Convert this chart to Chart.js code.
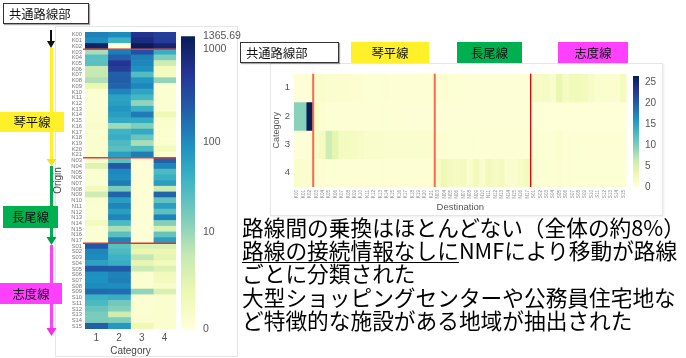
<!DOCTYPE html>
<html>
<head>
<meta charset="utf-8">
<script src="https://cdn.jsdelivr.net/npm/chart.js@4.4.1/dist/chart.umd.min.js"></script>
<style>
  html, body { margin: 0; padding: 0; background: #fff; }
  #page { position: relative; width: 686px; height: 358px; overflow: hidden;
          font-family: "Noto Sans CJK JP", "Noto Sans", sans-serif; color: #111; }
  canvas { position: absolute; }
  .card { position: absolute; box-sizing: border-box; border: 1px solid #e6e6e6; background: #fff; }
  .tag { position: absolute; box-sizing: border-box; display: flex; align-items: center;
         justify-content: center; font-size: 12.3px; color: #111; }
  .boxed { border: 1.5px solid #333; background: #fff; justify-content: flex-start; padding-left: 5px;
           box-shadow: 1px 1px 1px rgba(0,0,0,0.35); }
  .kotohira { background: #fff02a; }
  .nagao { background: #00b050; }
  .shido { background: #ff40ff; }
  #notes { position: absolute; left: 242px; top: 215px; font-size: 21.7px; line-height: 23.2px;
           white-space: nowrap; color: #000; }
  #notes .ul { text-decoration: underline; text-decoration-thickness: 1px; text-underline-offset: 3px; }
  svg { position: absolute; left: 0; top: 0; }
</style>
</head>
<body>
<div id="page">
  <div class="card" style="left:55px; top:26px; width:183px; height:331px;"></div>
  <div class="card" style="left:270px; top:63px; width:393px; height:153px; box-shadow: 1px 1px 2px rgba(0,0,0,0.08);"></div>

  <canvas id="originMap" width="133" height="336" style="left:52px; top:22px;"></canvas>
  <canvas id="originScale" width="70" height="336" style="left:175px; top:22px;"></canvas>
  <canvas id="destMap" width="366" height="152" style="left:266px; top:64px;"></canvas>
  <canvas id="destScale" width="35" height="152" style="left:627px; top:64px;"></canvas>

  <svg width="686" height="358">
    <line x1="51" y1="30" x2="51" y2="42" stroke="#111" stroke-width="2"/>
    <polygon points="47,41 55,41 51,48" fill="#111"/>
    <rect x="50" y="48" width="3" height="112" fill="#fff02a"/>
    <polygon points="46.5,159 56.5,159 51.5,166" fill="#f2e21c"/>
    <rect x="50" y="166" width="3" height="72" fill="#00b050"/>
    <polygon points="46.5,237 56.5,237 51.5,245" fill="#00a048"/>
    <rect x="50" y="245" width="3" height="84" fill="#ff40ff"/>
    <polygon points="46.5,328 56.5,328 51.5,336" fill="#f030f0"/>
  </svg>

  <div class="tag boxed" style="left:3px; top:3px; width:86px; height:21px;">共通路線部</div>
  <div class="tag kotohira" style="left:0px; top:112px; width:64px; height:20px;">琴平線</div>
  <div class="tag nagao" style="left:3px; top:206px; width:55px; height:22px;">長尾線</div>
  <div class="tag shido" style="left:0px; top:283px; width:62px; height:21px;">志度線</div>

  <div class="tag boxed" style="left:240px; top:42px; width:99px; height:21px;">共通路線部</div>
  <div class="tag kotohira" style="left:351px; top:42px; width:78px; height:21px;">琴平線</div>
  <div class="tag nagao" style="left:457px; top:42px; width:65px; height:21px;">長尾線</div>
  <div class="tag shido" style="left:558px; top:42px; width:70px; height:21px;">志度線</div>

  <div id="notes">
    <div>路線間の乗換はほとんどない（全体の約8%）</div>
    <div><span class="ul">路線の接続情報なしに</span>NMFにより移動が路線</div>
    <div>ごとに分類された</div>
    <div>大型ショッピングセンターや公務員住宅地な</div>
    <div>ど特徴的な施設がある地域が抽出された</div>
  </div>
</div>

<script>
// Stations: common trunk K00-K02, Kotohira line K03-K21, Nagao line N03-N17, Shido line S01-S15
const stations = [
  'K00','K01','K02','K03','K04','K05','K06','K07','K08','K09','K10','K11','K12','K13','K14','K15','K16','K17','K18','K19','K20','K21',
  'N03','N04','N05','N06','N07','N08','N09','N10','N11','N12','N13','N14','N15','N16','N17',
  'S01','S02','S03','S04','S05','S06','S07','S08','S09','S10','S11','S12','S13','S14','S15'
];
const categories = ['1', '2', '3', '4'];
const sectionStarts = ['K03', 'N03', 'S01'];

// Origin weights per category (W matrix), one array per category
const originCat1 = [
  120, 95, 1050, 8, 25, 25, 5, 5, 7, 1.5, 0.2, 0.2, 0.2, 0.2, 0.3, 0.3, 0.4, 0.3, 0.3, 0.3, 0.3, 0.3,
  0.3, 2.5, 0.2, 0.2, 0.2, 0.8, 4, 0.3, 0.2, 0.2, 0.2, 0.8, 0.2, 0.2, 0.2,
  260, 110, 100, 60, 260, 90, 90, 100, 180, 40, 32, 20, 15, 15, 220
];
const originCat2 = [
  100, 40, 0, 130, 220, 550, 450, 220, 230, 200, 110, 60, 65, 80, 65, 50, 9, 38, 45, 30, 25, 65,
  25, 250, 105, 95, 130, 15, 200, 65, 110, 65, 110, 32, 8, 25, 115,
  25, 30, 40, 45, 250, 115, 125, 95, 170, 45, 17, 13, 4, 14, 75
];
const originCat3 = [
  600, 750, 1365.69, 300, 125, 110, 90, 28, 80, 105, 55, 35, 11, 42, 135, 50, 14, 50, 20, 8, 30, 130,
  0.1, 0.1, 0.1, 0.1, 0.1, 0.1, 0.1, 0.1, 0.1, 0.1, 0.1, 0.1, 0.1, 0.1, 0.1,
  2.8, 1.6, 5.5, 1.8, 4.5, 0.2, 0.2, 0.2, 11, 0.2, 0.2, 0.2, 0.2, 0.3, 1.2
];
const originCat4 = [
  450, 470, 950, 45, 14, 4, 0.8, 0.7, 11, 0.2, 0.2, 0.2, 0.2, 0.2, 1.3, 0.3, 0.3, 0.2, 0.2, 0.3, 0.9, 0.3,
  210, 110, 30, 42, 65, 4.5, 200, 22, 65, 24, 115, 13, 3, 21, 65,
  3, 1.5, 2, 0.9, 2.7, 1, 0.8, 0.4, 3, 0.3, 0.3, 0.3, 0.3, 0.3, 0.3
];

// Destination weights per category (H matrix)
const destCat1 = [
  0.3, 0.3, 0.3, 1.0, 1.2, 0.9, 1.0, 0.8, 0.8, 0.6, 0.6, 0.5, 0.5, 0.5, 0.6, 0.5, 0.5, 0.4, 0.4, 0.4, 0.4, 0.4,
  0.5, 0.6, 0.5, 0.4, 0.4, 0.3, 0.4, 0.3, 0.3, 0.3, 0.3, 0.3, 0.3, 0.3, 0.3,
  1.5, 1.5, 1.8, 1.2, 3.5, 1.8, 2.5, 2.6, 2.4, 1.5, 1.0, 1.0, 0.8, 0.8, 2.0
];
const destCat2 = [
  9.5, 9.5, 26.6, 1.5, 0.6, 0.5, 0.5, 0.4, 0.4, 0.4, 0.4, 0.4, 0.4, 0.4, 0.5, 0.4, 0.4, 0.3, 0.3, 0.3, 0.3, 0.3,
  0.3, 0.3, 0.3, 0.3, 0.3, 0.3, 0.3, 0.3, 0.3, 0.3, 0.3, 0.3, 0.3, 0.3, 0.3,
  0.2, 0.2, 0.2, 0.2, 0.2, 0.2, 0.2, 0.2, 0.2, 0.2, 0.2, 0.2, 0.2, 0.2, 0.2
];
const destCat3 = [
  0.3, 0.3, 0.4, 1.5, 2.0, 6.0, 4.0, 2.0, 2.0, 1.8, 1.5, 1.2, 1.2, 1.2, 1.0, 1.0, 0.9, 1.0, 1.0, 0.9, 0.8, 0.8,
  0.6, 0.6, 0.5, 0.5, 0.5, 0.5, 0.5, 0.4, 0.4, 0.4, 0.4, 0.4, 0.4, 0.4, 0.4,
  0.5, 0.5, 0.5, 0.5, 0.9, 0.5, 0.5, 0.5, 0.5, 0.4, 0.4, 0.4, 0.4, 0.4, 0.4
];
const destCat4 = [
  1.2, 1.0, 0.6, 0.6, 0.6, 0.5, 0.5, 0.4, 0.4, 0.4, 0.4, 0.4, 0.4, 0.4, 0.4, 0.4, 0.4, 0.4, 0.4, 0.4, 0.4, 0.4,
  1.5, 3.0, 2.2, 1.8, 2.2, 1.0, 2.6, 1.2, 2.5, 1.8, 2.2, 1.0, 1.0, 1.6, 2.2,
  0.6, 0.5, 0.5, 0.5, 0.6, 0.5, 0.5, 0.5, 0.5, 0.5, 0.5, 0.5, 0.5, 0.5, 0.5
];

const originScaleTicks = [0, 10, 100, 1000];
const destScaleTicks = [0, 5, 10, 15, 20, 25];

const originCols = [originCat1, originCat2, originCat3, originCat4];
const destRows = [destCat1, destCat2, destCat3, destCat4];

// YlGnBu colour ramp
const YLGNBU = ['#ffffd9','#edf8b1','#c7e9b4','#7fcdbb','#41b6c4','#1d91c0','#225ea8','#253494','#081d58'];
const rampRGB = YLGNBU.map(h => [1, 3, 5].map(i => parseInt(h.substr(i, 2), 16)));
function ylGnBu(t) {
  t = Math.max(0, Math.min(1, t));
  const s = t * (rampRGB.length - 1);
  const i = Math.min(rampRGB.length - 2, Math.floor(s));
  const f = s - i;
  const c = rampRGB[i].map((v, k) => Math.round(v + (rampRGB[i + 1][k] - v) * f));
  return `rgb(${c[0]},${c[1]},${c[2]})`;
}
function rampFill(context) {
  const area = context.chart.chartArea;
  if (!area) return YLGNBU[0];
  const g = context.chart.ctx.createLinearGradient(0, area.bottom, 0, area.top);
  YLGNBU.forEach((c, i) => g.addColorStop(i / (YLGNBU.length - 1), c));
  return g;
}

const log1p10 = v => Math.log10(1 + v);
const originMax = Math.max(...originCols.flat());
const originLogMax = log1p10(originMax);
const destMax = Math.max(...destRows.flat());
const sectionBreaks = sectionStarts.map(s => stations.indexOf(s));

Chart.defaults.font.family = '"Liberation Sans", Arial, sans-serif';
Chart.defaults.animation = false;

// Red separators between the railway sections
const separators = {
  id: 'separators',
  afterDatasetsDraw(chart, args, opts) {
    const scale = chart.scales[opts.axis];
    const area = chart.chartArea;
    const ctx = chart.ctx;
    ctx.save();
    opts.breaks.forEach((b, i) => {
      const p = (scale.getPixelForValue(b - 1) + scale.getPixelForValue(b)) / 2;
      ctx.strokeStyle = opts.colors[i];
      ctx.lineWidth = opts.widths[i];
      ctx.beginPath();
      if (scale.isHorizontal()) {
        ctx.moveTo(p, area.top);
        ctx.lineTo(p, area.bottom);
      } else {
        ctx.moveTo(area.left - (opts.overhang || 0), p);
        ctx.lineTo(area.right, p);
      }
      ctx.stroke();
    });
    ctx.restore();
  }
};

const noGrid = { display: false, drawTicks: false };
const noBorder = { display: false };

// Origin x category heat map (rows = stations)
new Chart(document.getElementById('originMap'), {
  type: 'bar',
  data: {
    labels: stations,
    datasets: originCols.map((vals, c) => ({
      label: categories[c],
      data: vals.map(() => [c, c + 1]),
      backgroundColor: vals.map(v => ylGnBu(log1p10(v) / originLogMax)),
      grouped: false,
      barPercentage: 1,
      categoryPercentage: 1,
      borderWidth: 0
    }))
  },
  plugins: [separators],
  options: {
    indexAxis: 'y',
    responsive: false,
    layout: { padding: { top: 10, right: 9, left: 0, bottom: 0 } },
    plugins: {
      legend: { display: false },
      tooltip: { enabled: false },
      separators: { axis: 'y', breaks: sectionBreaks, colors: ['#ee3b30', '#ee3b30', '#e8302a'], widths: [1.5, 1.5, 1.5], overhang: 2 }
    },
    scales: {
      y: {
        type: 'category',
        grid: noGrid, border: noBorder,
        ticks: { autoSkip: false, font: { size: 5.8 }, color: '#777', padding: 3 },
        title: { display: true, text: 'Origin', font: { size: 10 }, color: '#444', padding: { top: 0, bottom: 0 } },
        afterFit(s) { s.width = 33; }
      },
      x: {
        type: 'linear', min: 0, max: categories.length,
        grid: noGrid, border: noBorder,
        afterBuildTicks(s) { s.ticks = categories.map((_, i) => ({ value: i + 0.5 })); },
        ticks: { autoSkip: false, font: { size: 10 }, color: '#555', padding: 3,
                 callback: v => categories[Math.floor(v)] },
        title: { display: true, text: 'Category', font: { size: 10 }, color: '#444', padding: { top: 0, bottom: 1 } },
        afterFit(s) { s.height = 29; }
      }
    }
  }
});

// Colour scale for the origin map (log(1+x) spacing)
const originTickVals = originScaleTicks.concat([originMax]);
new Chart(document.getElementById('originScale'), {
  type: 'bar',
  data: {
    labels: [''],
    datasets: [{ data: [[0, originLogMax]], backgroundColor: rampFill, barPercentage: 1, categoryPercentage: 1, borderWidth: 0 }]
  },
  options: {
    responsive: false,
    layout: { padding: { top: 10, left: 6, right: 0, bottom: 29 } },
    plugins: { legend: { display: false }, tooltip: { enabled: false } },
    scales: {
      x: { display: false },
      y: {
        position: 'right', min: 0, max: originLogMax,
        grid: noGrid, border: noBorder,
        afterBuildTicks(s) { s.ticks = originTickVals.map(v => ({ value: log1p10(v) })); },
        ticks: { autoSkip: false, font: { size: 10.5 }, color: '#555', padding: 8,
                 callback: (v, i) => { const t = originTickVals[i]; return Number.isInteger(t) ? String(t) : t.toFixed(2); } },
        afterFit(s) { s.width = 50; }
      }
    }
  }
});

// Category x destination heat map (columns = stations)
new Chart(document.getElementById('destMap'), {
  type: 'bar',
  data: {
    labels: stations,
    datasets: destRows.map((vals, r) => ({
      label: categories[r],
      data: vals.map(() => [r, r + 1]),
      backgroundColor: vals.map(v => ylGnBu(v / destMax)),
      grouped: false,
      barPercentage: 1,
      categoryPercentage: 1,
      borderWidth: 0
    }))
  },
  plugins: [separators],
  options: {
    responsive: false,
    layout: { padding: { top: 8, right: 4, left: 0, bottom: 0 } },
    plugins: {
      legend: { display: false },
      tooltip: { enabled: false },
      separators: { axis: 'x', breaks: sectionBreaks, colors: ['#f76a50', '#f76a50', '#d80000'], widths: [2, 2, 1.3] }
    },
    scales: {
      x: {
        type: 'category',
        grid: noGrid, border: noBorder,
        ticks: { autoSkip: false, minRotation: 90, maxRotation: 90, font: { size: 4.6 }, color: '#888', padding: 3 },
        title: { display: true, text: 'Destination', font: { size: 9.5 }, color: '#555', padding: { top: 0, bottom: 2.5 } },
        afterFit(s) { s.height = 29; }
      },
      y: {
        type: 'linear', min: 0, max: categories.length, reverse: true,
        grid: noGrid, border: noBorder,
        afterBuildTicks(s) { s.ticks = categories.map((_, i) => ({ value: i + 0.5 })); },
        ticks: { autoSkip: false, font: { size: 9.5 }, color: '#555', padding: 4,
                 callback: v => categories[Math.floor(v)] },
        title: { display: true, text: 'Category', font: { size: 9 }, color: '#555', padding: { top: 5.5, bottom: 0 } },
        afterFit(s) { s.width = 28; }
      }
    }
  }
});

// Colour scale for the destination map (linear)
new Chart(document.getElementById('destScale'), {
  type: 'bar',
  data: {
    labels: [''],
    datasets: [{ data: [[0, destMax]], backgroundColor: rampFill, barPercentage: 1, categoryPercentage: 1, borderWidth: 0 }]
  },
  options: {
    responsive: false,
    layout: { padding: { top: 8, left: 6, right: 0, bottom: 29 } },
    plugins: { legend: { display: false }, tooltip: { enabled: false } },
    scales: {
      x: { display: false },
      y: {
        position: 'right', min: 0, max: destMax,
        grid: noGrid, border: noBorder,
        afterBuildTicks(s) { s.ticks = destScaleTicks.map(v => ({ value: v })); },
        ticks: { autoSkip: false, font: { size: 10 }, color: '#555', padding: 6 },
        afterFit(s) { s.width = 23; }
      }
    }
  }
});
</script>
</body>
</html>
